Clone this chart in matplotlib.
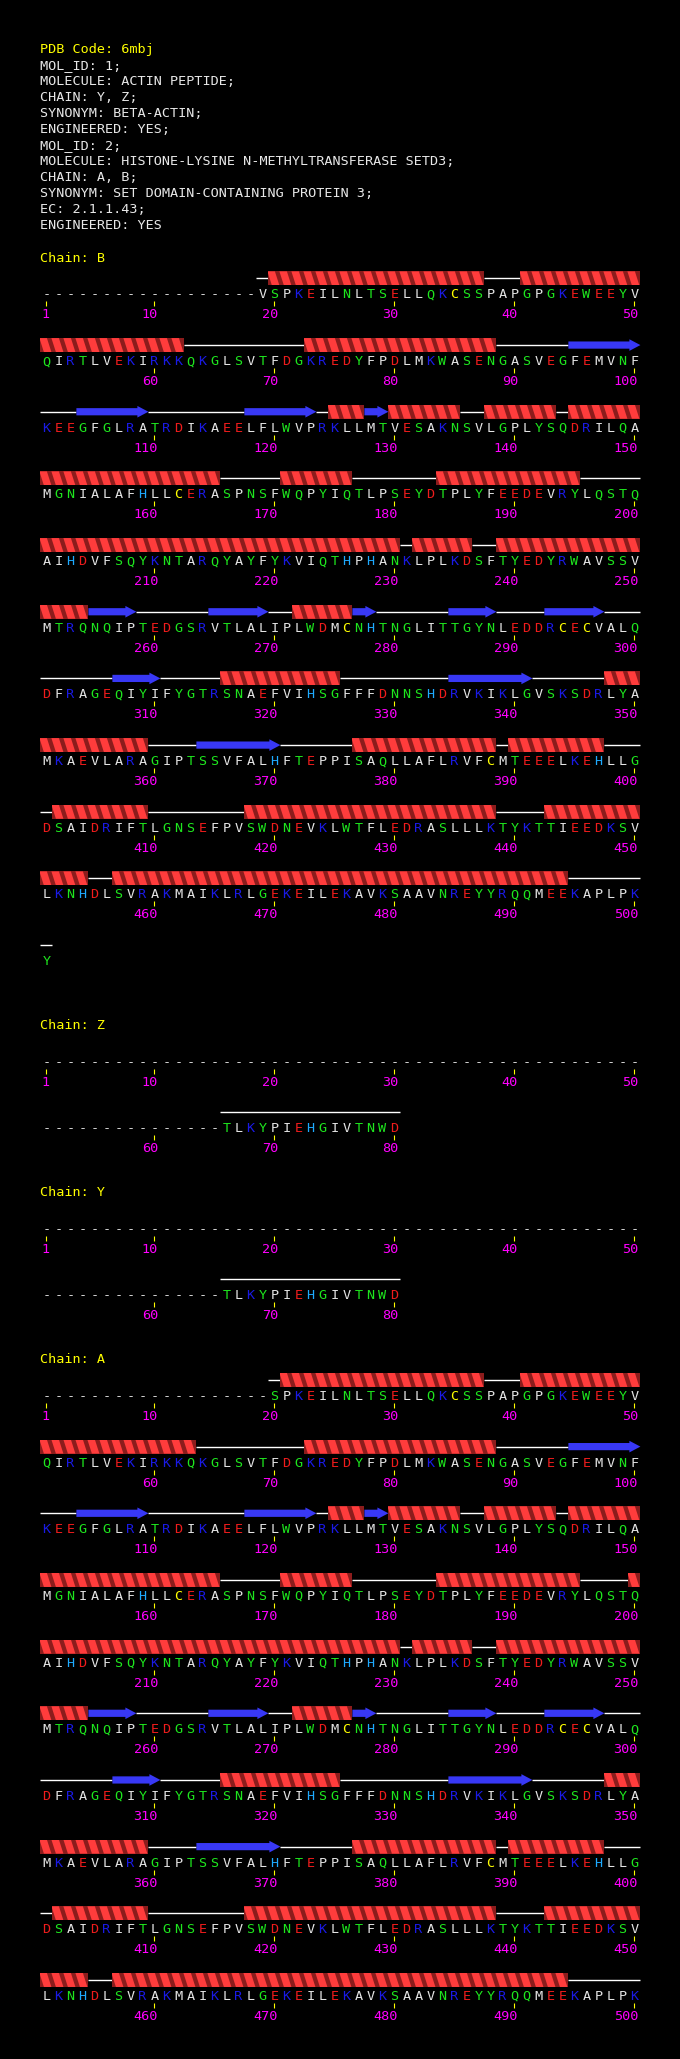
import matplotlib.pyplot as plt
from matplotlib.patches import Rectangle, Polygon

# ---- data ----
header_title = "PDB Code: 6mbj"
header_lines = [
    "MOL_ID: 1;",
    "MOLECULE: ACTIN PEPTIDE;",
    "CHAIN: Y, Z;",
    "SYNONYM: BETA-ACTIN;",
    "ENGINEERED: YES;",
    "MOL_ID: 2;",
    "MOLECULE: HISTONE-LYSINE N-METHYLTRANSFERASE SETD3;",
    "CHAIN: A, B;",
    "SYNONYM: SET DOMAIN-CONTAINING PROTEIN 3;",
    "EC: 2.1.1.43;",
    "ENGINEERED: YES",
]

# SETD3 sequence, starting at residue 19
setd3_first = 19
setd3_seq = ("VSPKEILNLTSELLQKCSSPAPGPGKEWEEYV"
             "QIRTLVEKIRKKQKGLSVTFDGKREDYFPDLMKWASENGASVEGFEMVNF"
             "KEEGFGLRATRDIKAEELFLWVPRKLLMTVESAKNSVLGPLYSQDRILQA"
             "MGNIALAFHLLCERASPNSFWQPYIQTLPSEYDTPLYFEEDEVRYLQSTQ"
             "AIHDVFSQYKNTARQYAYFYKVIQTHPHANKLPLKDSFTYEDYRWAVSSV"
             "MTRQNQIPTEDGSRVTLALIPLWDMCNHTNGLITTGYNLEDDRCECVALQ"
             "DFRAGEQIYIFYGTRSNAEFVIHSGFFFDNNSHDRVKIKLGVSKSDRLYA"
             "MKAEVLARAGIPTSSVFALHFTEPPISAQLLAFLRVFCMTEEELKEHLLG"
             "DSAIDRIFTLGNSEFPVSWDNEVKLWTFLEDRASLLLKTYKTTIEEDKSV"
             "LKNHDLSVRAKMAIKLRLGEKEILEKAVKSAAVNREYYRQQMEEKAPLPK"
             "Y")

# actin peptide, starting at residue 66
actin_first = 66
actin_seq = "TLKYPIEHGIVTNWD"

chain_names = ["B", "Z", "Y", "A"]
chain_lengths = [501, 80, 80, 500]
chain_observed = [(19, 501), (66, 80), (66, 80), (20, 500)]

# secondary structure: (type, first, last)  H helix, E strand, C coil
ss_chain_b = [
    ("C", 19, 19), ("H", 20, 37), ("C", 38, 40), ("H", 41, 62), ("C", 63, 72),
    ("H", 73, 88), ("C", 89, 94), ("E", 95, 100), ("C", 101, 103), ("E", 104, 109),
    ("C", 110, 117), ("E", 118, 123), ("C", 124, 124), ("H", 125, 127), ("E", 128, 129),
    ("H", 130, 135), ("C", 136, 137), ("H", 138, 143), ("C", 144, 144), ("H", 145, 165),
    ("C", 166, 170), ("H", 171, 176), ("C", 177, 183), ("H", 184, 195), ("C", 196, 200),
    ("H", 201, 230), ("C", 231, 231), ("H", 232, 236), ("C", 237, 238), ("H", 239, 254),
    ("E", 255, 258), ("C", 259, 264), ("E", 265, 269), ("C", 270, 271), ("H", 272, 276),
    ("E", 277, 278), ("C", 279, 284), ("E", 285, 288), ("C", 289, 292), ("E", 293, 297),
    ("C", 298, 306), ("E", 307, 310), ("C", 311, 315), ("H", 316, 325), ("C", 326, 334),
    ("E", 335, 341), ("C", 342, 347), ("H", 348, 359), ("C", 360, 363), ("E", 364, 370),
    ("C", 371, 376), ("H", 377, 388), ("C", 389, 389), ("H", 390, 397), ("C", 398, 401),
    ("H", 402, 409), ("C", 410, 417), ("H", 418, 438), ("C", 439, 442), ("H", 443, 454),
    ("C", 455, 456), ("H", 457, 494), ("C", 495, 501),
]
ss_chain_a = [
    ("C", 20, 20), ("H", 21, 37), ("C", 38, 40), ("H", 41, 63), ("C", 64, 72),
    ("H", 73, 88), ("C", 89, 94), ("E", 95, 100), ("C", 101, 103), ("E", 104, 109),
    ("C", 110, 117), ("E", 118, 123), ("C", 124, 124), ("H", 125, 127), ("E", 128, 129),
    ("H", 130, 135), ("C", 136, 137), ("H", 138, 143), ("C", 144, 144), ("H", 145, 165),
    ("C", 166, 170), ("H", 171, 176), ("C", 177, 183), ("H", 184, 195), ("C", 196, 199),
    ("H", 200, 230), ("C", 231, 231), ("H", 232, 236), ("C", 237, 238), ("H", 239, 254),
    ("E", 255, 258), ("C", 259, 264), ("E", 265, 269), ("C", 270, 271), ("H", 272, 276),
    ("E", 277, 278), ("C", 279, 284), ("E", 285, 288), ("C", 289, 292), ("E", 293, 297),
    ("C", 298, 306), ("E", 307, 310), ("C", 311, 315), ("H", 316, 325), ("C", 326, 334),
    ("E", 335, 341), ("C", 342, 347), ("H", 348, 359), ("C", 360, 363), ("E", 364, 370),
    ("C", 371, 376), ("H", 377, 388), ("C", 389, 389), ("H", 390, 397), ("C", 398, 401),
    ("H", 402, 409), ("C", 410, 417), ("H", 418, 438), ("C", 439, 442), ("H", 443, 454),
    ("C", 455, 456), ("H", 457, 494), ("C", 495, 500),
]
ss_actin = [("C", 66, 80)]

residue_colors = {}
for aa in "AVLIMFP":
    residue_colors[aa] = "#e4e4e4"
for aa in "STNQGYW":
    residue_colors[aa] = "#1ee61e"
for aa in "KR":
    residue_colors[aa] = "#1a1ae6"
for aa in "DE":
    residue_colors[aa] = "#f01c1c"
residue_colors["H"] = "#1eaaff"
residue_colors["C"] = "#ffff00"

# ---- layout ----
W, H = 680, 2059
FONT = "DejaVu Sans Mono"
FS = 9.7            # pt, at 100 dpi
CAP = 5.0           # half cap height in px
X0, PITCH, PER_ROW = 46.4, 12.0, 50
ROW_H = 66.67
HELIX_RED = "#ff3c3c"
HELIX_DARK = "#8c1c1c"
STRAND_BLUE = "#3838f5"


def res_x(i):
    return X0 + PITCH * ((i - 1) % PER_ROW)


def put(ax, x, y, s, color, ha="left"):
    ax.text(x, y + CAP, s, color=color, fontsize=FS, family=FONT,
            ha=ha, va="baseline")


def draw_helix(ax, a, b, yc):
    xl, xr = res_x(a) - 6, res_x(b) + 6
    top, bot = yc - 7, yc + 7
    clip = Rectangle((xl, top), xr - xl, bot - top, transform=ax.transData)
    ax.add_patch(Rectangle((xl, top), xr - xl, bot - top, color=HELIX_DARK,
                           lw=0, zorder=3))
    for k in range(-1, b - a + 1):
        xc = res_x(a) + PITCH * k
        p = Polygon([(xc - 7, top), (xc + 0.5, top), (xc + 5, bot), (xc - 2.5, bot)],
                    closed=True, color=HELIX_RED, lw=0, zorder=4)
        ax.add_patch(p)
        p.set_clip_path(clip)


def draw_strand(ax, a, b, yc, head):
    xl, xr = res_x(a) - 6, res_x(b) + 6
    if head:
        xh = xr - 11
        pts = [(xl, yc - 3.6), (xh, yc - 3.6), (xh, yc - 5.8), (xr, yc),
               (xh, yc + 5.8), (xh, yc + 3.6), (xl, yc + 3.6)]
    else:
        pts = [(xl, yc - 3.6), (xr, yc - 3.6), (xr, yc + 3.6), (xl, yc + 3.6)]
    ax.add_patch(Polygon(pts, closed=True, color=STRAND_BLUE, lw=0, zorder=4))


def draw_chain(ax, name, y_label, length, observed, seq, seq_first, ss):
    put(ax, 39.5, y_label, "Chain: " + name, "#ffff00")
    n_rows = (length + PER_ROW - 1) // PER_ROW
    for r in range(n_rows):
        y = y_label + 36.7 + ROW_H * r
        r0 = r * PER_ROW + 1
        r1 = min(length, r0 + PER_ROW - 1)
        for i in range(r0, r1 + 1):
            x = res_x(i)
            if observed[0] <= i <= observed[1]:
                aa = seq[i - seq_first]
                put(ax, x, y, aa, residue_colors[aa], ha="center")
            else:
                put(ax, x, y, "-", "#d8d8d8", ha="center")
            if i == 1 or i % 10 == 0:
                ax.plot([x, x], [y + 8, y + 13], color="#ffff00", lw=0.8,
                        solid_capstyle="butt", zorder=2)
                put(ax, x + 3.6, y + 20, str(i), "#ff00ff", ha="right")
        ys = y - 15
        for kind, a, b in ss:
            a2, b2 = max(a, r0), min(b, r1)
            if a2 > b2:
                continue
            if kind == "C":
                ax.plot([res_x(a2) - 6, res_x(b2) + 6], [ys, ys], color="white",
                        lw=1.0, solid_capstyle="butt", zorder=2)
            elif kind == "H":
                draw_helix(ax, a2, b2, ys)
            else:
                draw_strand(ax, a2, b2, ys, head=(b2 == b))
    return y_label + 36.7 + ROW_H * (n_rows - 1)


fig = plt.figure(figsize=(W / 100, H / 100), dpi=100, facecolor="black")
ax = fig.add_axes([0, 0, 1, 1])
ax.set_facecolor("black")
ax.set_xlim(0, W)
ax.set_ylim(H, 0)
ax.axis("off")

put(ax, 39.5, 48.3, header_title, "#ffff00")
for k, line in enumerate(header_lines):
    put(ax, 39.5, 48.3 + 16 * (k + 1), line, "#e8e8e8")

chain_seqs = [(setd3_seq, setd3_first), (actin_seq, actin_first),
              (actin_seq, actin_first), (setd3_seq, setd3_first)]
chain_ss = [ss_chain_b, ss_actin, ss_actin, ss_chain_a]

y_label = 256.7
for name, length, obs, (seq, first), ss in zip(chain_names, chain_lengths,
                                               chain_observed, chain_seqs, chain_ss):
    last_y = draw_chain(ax, name, y_label, length, obs, seq, first, ss)
    y_label = last_y + 63.8

fig.savefig("out.png", dpi=100, facecolor="black")
